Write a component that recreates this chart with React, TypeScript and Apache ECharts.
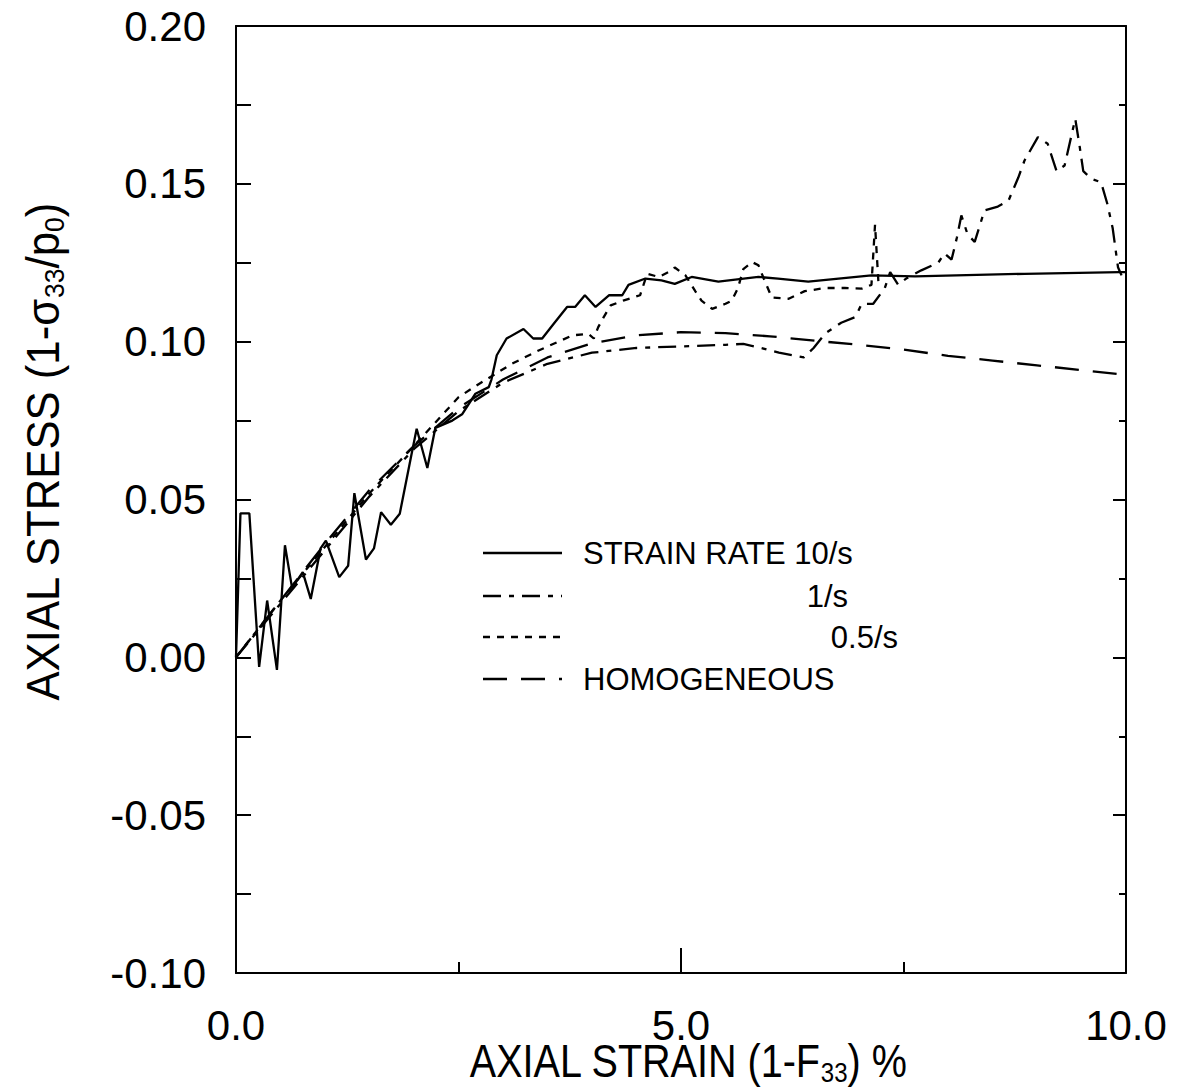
import React, { useEffect, useRef } from "react";
import * as echarts from "echarts";

// ---------- data ----------
const xTicks = [0, 5, 10];
const yTicks = [-0.1, -0.05, 0, 0.05, 0.1, 0.15, 0.2];

const rate10X = [0, 0.05, 0.15, 0.26, 0.35, 0.46, 0.55, 0.63, 0.75, 0.84, 0.95, 1.01, 1.16, 1.26, 1.33, 1.46, 1.55, 1.63, 1.74, 1.84, 1.97, 2.03, 2.15, 2.24, 2.43, 2.54, 2.69, 2.84, 2.87, 2.93, 3.04, 3.23, 3.34, 3.44, 3.57, 3.72, 3.81, 3.92, 4.04, 4.19, 4.34, 4.41, 4.6, 4.78, 4.93, 5.12, 5.42, 5.87, 6.09, 6.43, 7.14, 7.63, 8.86, 9.93, 10];
const rate10Y = [0, 0.0456, 0.0456, -0.003, 0.018, -0.004, 0.0355, 0.022, 0.027, 0.0185, 0.0345, 0.037, 0.0254, 0.029, 0.052, 0.031, 0.0345, 0.046, 0.042, 0.0455, 0.064, 0.0724, 0.06, 0.0727, 0.075, 0.077, 0.0835, 0.0856, 0.088, 0.0957, 0.101, 0.104, 0.101, 0.101, 0.1057, 0.111, 0.111, 0.1147, 0.111, 0.1147, 0.1147, 0.118, 0.12, 0.1194, 0.1183, 0.1205, 0.119, 0.1205, 0.12, 0.119, 0.121, 0.1207, 0.1215, 0.122, 0.122];

const rate1X = [0, 0.5, 1, 1.5, 2, 2.5, 3, 3.5, 4, 4.5, 5, 5.5, 5.7, 5.9, 6.1, 6.25, 6.38, 6.49, 6.62, 6.8, 6.96, 7.03, 7.16, 7.29, 7.35, 7.44, 7.53, 7.7, 7.89, 7.96, 8.04, 8.1, 8.15, 8.22, 8.3, 8.41, 8.56, 8.68, 8.79, 8.86, 9.01, 9.12, 9.22, 9.31, 9.43, 9.48, 9.52, 9.61, 9.72, 9.79, 9.85, 9.91, 9.95];
const rate1Y = [0, 0.017, 0.034, 0.051, 0.066, 0.078, 0.087, 0.093, 0.0965, 0.098, 0.0985, 0.099, 0.0993, 0.098, 0.0965, 0.0957, 0.095, 0.098, 0.1026, 0.106, 0.1078, 0.112, 0.112, 0.117, 0.122, 0.118, 0.12, 0.1226, 0.125, 0.128, 0.126, 0.133, 0.14, 0.134, 0.1316, 0.1416, 0.1428, 0.1447, 0.152, 0.1574, 0.1648, 0.1627, 0.154, 0.1558, 0.1706, 0.1617, 0.154, 0.1516, 0.1505, 0.1437, 0.136, 0.1236, 0.121];

const rate05X = [0, 0.5, 1, 1.5, 2, 2.5, 2.73, 3.1, 3.4, 3.78, 3.96, 4.02, 4.07, 4.13, 4.21, 4.35, 4.54, 4.62, 4.75, 4.9, 4.93, 5.05, 5.16, 5.23, 5.35, 5.5, 5.57, 5.64, 5.7, 5.8, 5.87, 5.93, 6.02, 6.21, 6.39, 6.62, 6.84, 7.03, 7.14, 7.18, 7.22];
const rate05Y = [0, 0.018, 0.035, 0.052, 0.067, 0.0824, 0.0866, 0.093, 0.0972, 0.102, 0.1025, 0.101, 0.1046, 0.1077, 0.1115, 0.113, 0.1147, 0.1215, 0.1205, 0.1226, 0.1235, 0.121, 0.116, 0.113, 0.1104, 0.112, 0.113, 0.117, 0.123, 0.1252, 0.1242, 0.12, 0.114, 0.1136, 0.116, 0.117, 0.117, 0.1168, 0.118, 0.137, 0.118];

const homX = [0, 0.25, 0.5, 1, 1.5, 2, 2.5, 3, 3.5, 4, 4.5, 5, 5.5, 6, 6.5, 7, 7.5, 8, 8.5, 9, 9.5, 10];
const homY = [0, 0.009, 0.018, 0.036, 0.053, 0.067, 0.079, 0.088, 0.095, 0.0995, 0.102, 0.103, 0.1027, 0.1017, 0.1003, 0.099, 0.0975, 0.0955, 0.094, 0.0925, 0.091, 0.0895];

const legendLabels = ["STRAIN RATE 10/s", "1/s", "0.5/s", "HOMOGENEOUS"];

// ---------- styles ----------
const FONT = "'Liberation Sans', Arial, Helvetica, sans-serif";
const DASH_SOLID: any = "solid";
const DASH_1: number[] = [18, 8, 5, 8];
const DASH_05: number[] = [7, 7];
const DASH_HOM: number[] = [24, 14];
const LW = 2.3;

const zip = (xs: number[], ys: number[]) => xs.map((x, i) => [x, ys[i]]);

export default function App() {
  const ref = useRef<HTMLDivElement>(null);
  useEffect(() => {
    if (!ref.current) return;
    const chart = echarts.init(ref.current, null, { renderer: "svg" });

    const grid = { left: 236, right: 52, top: 26, bottom: 119 };

    const mkSeries = (name: string, xs: number[], ys: number[], type: any) => ({
      name,
      type: "line",
      data: zip(xs, ys),
      symbol: "none",
      smooth: false,
      lineStyle: { color: "#000", width: LW, type },
      xAxisIndex: 0,
      yAxisIndex: 0,
      z: 3,
    });

    const legendY = [553, 596, 637, 679];
    const legendDash = [DASH_SOLID, DASH_1, DASH_05, DASH_HOM];
    const legendGraphics: any[] = [];
    legendY.forEach((y, i) => {
      legendGraphics.push({
        type: "line",
        shape: { x1: 483, y1: y, x2: 562, y2: y },
        style: { stroke: "#000", lineWidth: LW, lineDash: i === 0 ? null : legendDash[i] },
      });
    });
    legendGraphics.push(
      { type: "text", x: 583, y: legendY[0], style: { text: legendLabels[0], font: `31px ${FONT}`, fill: "#000", align: "left", verticalAlign: "middle" } },
      { type: "text", x: 848, y: legendY[1], style: { text: legendLabels[1], font: `31px ${FONT}`, fill: "#000", align: "right", verticalAlign: "middle" } },
      { type: "text", x: 898, y: legendY[2], style: { text: legendLabels[2], font: `31px ${FONT}`, fill: "#000", align: "right", verticalAlign: "middle" } },
      { type: "text", x: 583, y: legendY[3], style: { text: legendLabels[3], font: `31px ${FONT}`, fill: "#000", align: "left", verticalAlign: "middle" } }
    );

    const nameRich = {
      a: { fontSize: 46, fontFamily: FONT, color: "#000" },
      s: { fontSize: 28, fontFamily: FONT, color: "#000", padding: [22, 0, 0, 0] },
    };

    const option: any = {
      animation: false,
      backgroundColor: "#fff",
      grid,
      xAxis: [
        {
          type: "value",
          min: 0,
          max: 10,
          interval: 5,
          position: "bottom",
          axisLine: { show: true, onZero: false, lineStyle: { color: "#000", width: 2 } },
          axisTick: { show: true, inside: true, length: 25, lineStyle: { color: "#000", width: 2 } },
          minorTick: { show: true, splitNumber: 2, length: 11, lineStyle: { color: "#000", width: 2 } },
          splitLine: { show: false },
          axisLabel: {
            margin: 31,
            fontSize: 42,
            fontFamily: FONT,
            color: "#000",
            formatter: (v: number) => (xTicks.includes(v) ? v.toFixed(1) : ""),
          },
        },
        {
          type: "value",
          min: 0,
          max: 10,
          interval: 5,
          position: "top",
          axisLine: { show: true, onZero: false, lineStyle: { color: "#000", width: 2 } },
          axisTick: { show: false },
          axisLabel: { show: false },
          splitLine: { show: false },
        },
      ],
      yAxis: [
        {
          type: "value",
          min: -0.1,
          max: 0.2,
          interval: 0.05,
          position: "left",
          axisLine: { show: true, onZero: false, lineStyle: { color: "#000", width: 2 } },
          axisTick: { show: true, inside: true, length: 15, lineStyle: { color: "#000", width: 2 } },
          minorTick: { show: true, splitNumber: 2, length: 15, lineStyle: { color: "#000", width: 2 } },
          splitLine: { show: false },
          axisLabel: {
            margin: 30,
            fontSize: 42,
            fontFamily: FONT,
            color: "#000",
            formatter: (v: number) => {
              const r = Math.round(v * 100) / 100;
              return yTicks.some((t) => Math.abs(t - r) < 1e-9) ? (r === 0 ? "0.00" : r.toFixed(2)) : "";
            },
          },
        },
        {
          type: "value",
          min: -0.1,
          max: 0.2,
          interval: 0.05,
          position: "right",
          axisLine: { show: true, onZero: false, lineStyle: { color: "#000", width: 2 } },
          axisTick: { show: true, inside: true, length: 13, lineStyle: { color: "#000", width: 2 } },
          minorTick: { show: true, splitNumber: 2, length: 7, lineStyle: { color: "#000", width: 2 } },
          axisLabel: { show: false },
          splitLine: { show: false },
        },
      ],
      series: [
        mkSeries("STRAIN RATE 10/s", rate10X, rate10Y, DASH_SOLID),
        mkSeries("1/s", rate1X, rate1Y, DASH_1),
        mkSeries("0.5/s", rate05X, rate05Y, DASH_05),
        mkSeries("HOMOGENEOUS", homX, homY, DASH_HOM),
      ],
      graphic: [
        ...legendGraphics,
        {
          type: "text",
          x: 688,
          y: 1061,
          scaleX: 0.86,
          style: {
            text: "{a|AXIAL STRAIN (1-F}{s|33}{a|) %}",
            rich: nameRich,
            align: "center",
            verticalAlign: "middle",
          },
        },
        {
          type: "text",
          x: 43,
          y: 452,
          rotation: Math.PI / 2,
          scaleX: 0.95,
          style: {
            text: "{a|AXIAL STRESS (1-σ}{s|33}{a|/p}{s|0}{a|)}",
            rich: nameRich,
            align: "center",
            verticalAlign: "middle",
          },
        },
      ],
    };
    chart.setOption(option);
    return () => chart.dispose();
  }, []);

  return (
    <div
      ref={ref}
      style={{ position: "fixed", left: 0, top: 0, width: 1178, height: 1092, background: "#fff" }}
    />
  );
}
